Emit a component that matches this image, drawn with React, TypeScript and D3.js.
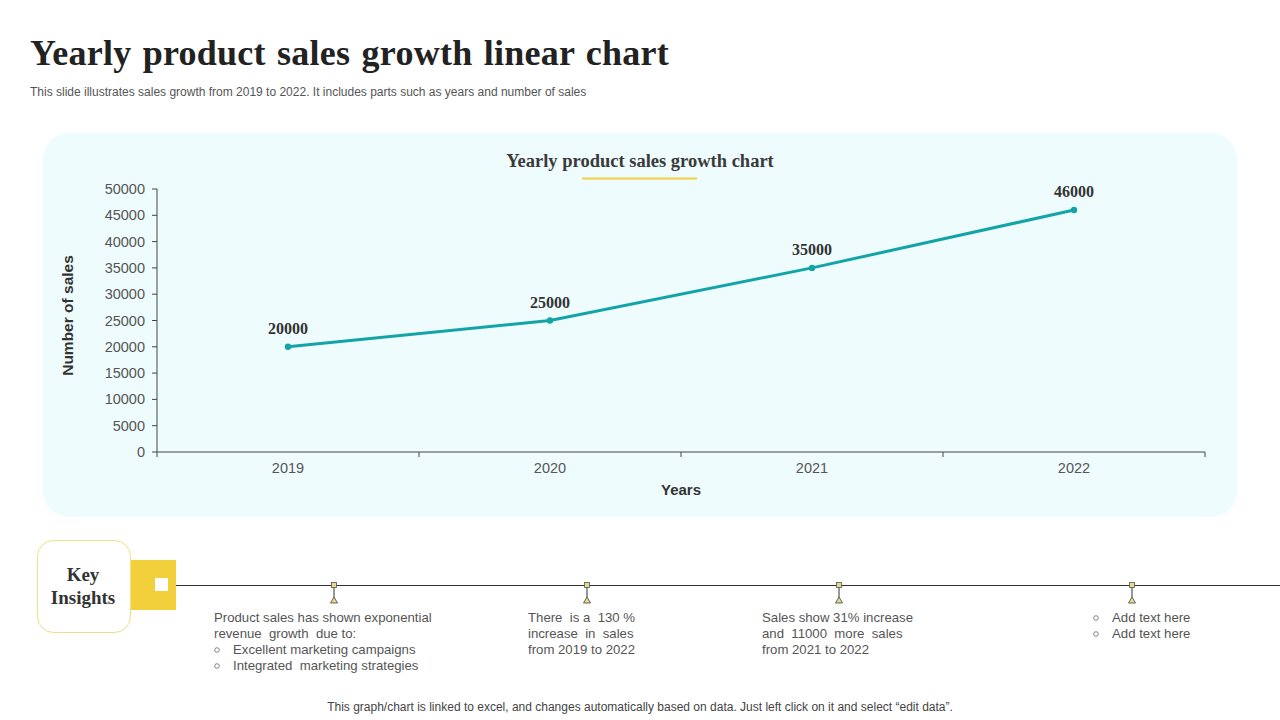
import React from "react";
import * as d3 from "d3";

const years = ["2019", "2020", "2021", "2022"];
const sales = [20000, 25000, 35000, 46000];
const yTicks = [0, 5000, 10000, 15000, 20000, 25000, 30000, 35000, 40000, 45000, 50000];

const insights = [
  { x: 334, textX: 214, lines: ["Product sales has shown exponential", "revenue  growth  due to:"], bullets: ["Excellent marketing campaigns", "Integrated  marketing strategies"] },
  { x: 587, textX: 528, lines: ["There  is a  130 %", "increase  in  sales", "from 2019 to 2022"], bullets: [] },
  { x: 839, textX: 762, lines: ["Sales show 31% increase", "and  11000  more  sales", "from 2021 to 2022"], bullets: [] },
  { x: 1132, textX: 1093, lines: [], bullets: ["Add text here", "Add text here"] },
];

const SANS = "'Liberation Sans', Arial, sans-serif";
const SERIF = "'Liberation Serif', 'Times New Roman', serif";

const App: React.FC = () => {
  const width = 1280;
  const height = 720;
  const margin = { left: 157, right: 1205, top: 189, bottom: 452 };

  const x = d3.scaleBand<string>().domain(years).range([margin.left, margin.right]);
  const y = d3.scaleLinear().domain([0, 50000]).range([margin.bottom, margin.top]);

  const line = d3
    .line<number>()
    .x((_, i) => (x(years[i]) ?? 0) + x.bandwidth() / 2)
    .y((d) => y(d));

  const bandEdges = [margin.left, ...years.map((yr) => (x(yr) ?? 0) + x.bandwidth())];

  return (
    <svg
      width={width}
      height={height}
      style={{ position: "absolute", left: 0, top: 0, background: "#fff" }}
    >
      {/* heading */}
      <text x={30} y={65} fontFamily={SERIF} fontWeight="bold" fontSize={36} fill="#222" letterSpacing={0.25} wordSpacing={2}>
        Yearly product sales growth linear chart
      </text>
      <text x={30} y={96} fontFamily={SANS} fontSize={12} fill="#555">
        This slide illustrates sales growth from 2019 to 2022. It includes parts such as years and number of sales
      </text>

      {/* chart panel */}
      <rect x={43} y={133} width={1194} height={384} rx={26} fill="#effcfe" />
      <text x={640} y={167} textAnchor="middle" fontFamily={SERIF} fontWeight="bold" fontSize={18.5} fill="#3a3a3a">
        Yearly product sales growth chart
      </text>
      <line x1={582} x2={697} y1={178.5} y2={178.5} stroke="#f2cf3c" strokeWidth={2} />

      {/* y axis */}
      <line x1={margin.left} x2={margin.left} y1={margin.top} y2={margin.bottom} stroke="#444" />
      {yTicks.map((t) => (
        <g key={t}>
          <line x1={margin.left - 5} x2={margin.left} y1={y(t)} y2={y(t)} stroke="#444" />
          <text x={margin.left - 12} y={y(t)} dy="0.35em" textAnchor="end" fontFamily={SANS} fontSize={14.5} fill="#555">
            {t}
          </text>
        </g>
      ))}
      <text
        transform={`translate(73,${(margin.top + margin.bottom) / 2 - 5}) rotate(-90)`}
        textAnchor="middle"
        fontFamily={SANS}
        fontWeight="bold"
        fontSize={15.5}
        fill="#333"
      >
        Number of sales
      </text>

      {/* x axis */}
      <line x1={margin.left} x2={margin.right} y1={margin.bottom} y2={margin.bottom} stroke="#444" />
      {bandEdges.map((e) => (
        <line key={e} x1={e} x2={e} y1={margin.bottom} y2={margin.bottom + 5} stroke="#444" />
      ))}
      {years.map((yr) => (
        <text
          key={yr}
          x={(x(yr) ?? 0) + x.bandwidth() / 2}
          y={473}
          textAnchor="middle"
          fontFamily={SANS}
          fontSize={14.5}
          fill="#555"
        >
          {yr}
        </text>
      ))}
      <text x={681} y={495} textAnchor="middle" fontFamily={SANS} fontWeight="bold" fontSize={15} fill="#333">
        Years
      </text>

      {/* series */}
      <path d={line(sales) ?? ""} fill="none" stroke="#13a4a7" strokeWidth={3} />
      {sales.map((v, i) => {
        const cx = (x(years[i]) ?? 0) + x.bandwidth() / 2;
        return (
          <g key={i}>
            <circle cx={cx} cy={y(v)} r={3.2} fill="#13a4a7" />
            <text x={cx} y={y(v) - 13} textAnchor="middle" fontFamily={SERIF} fontWeight="bold" fontSize={16} fill="#333">
              {v}
            </text>
          </g>
        );
      })}

      {/* key insights */}
      <line x1={176} x2={1280} y1={585.5} y2={585.5} stroke="#333" strokeWidth={1} />
      <rect x={131} y={560} width={45} height={50} fill="#f2d03b" />
      <rect x={155} y={578} width={13} height={13} fill="#fff" />
      <rect x={37.5} y={540.5} width={93} height={92} rx={16} fill="#fff" stroke="#f3dc85" strokeWidth={1} />
      <text x={83} y={581} textAnchor="middle" fontFamily={SERIF} fontWeight="bold" fontSize={19} fill="#333">
        Key
      </text>
      <text x={83} y={604} textAnchor="middle" fontFamily={SERIF} fontWeight="bold" fontSize={19} fill="#333">
        Insights
      </text>

      {insights.map((ins, k) => (
        <g key={k}>
          <line x1={ins.x} x2={ins.x} y1={585} y2={598} stroke="#333" strokeWidth={1} />
          <rect x={ins.x - 2.5} y={582.5} width={5} height={5} fill="#e3dc8c" stroke="#555" strokeWidth={0.8} />
          <path
            d={`M${ins.x},${597} L${ins.x + 3.5},${603} L${ins.x - 3.5},${603} Z`}
            fill="#e3dc8c"
            stroke="#555"
            strokeWidth={0.9}
          />
          {ins.lines.map((l, j) => (
            <text key={j} x={ins.textX} y={622 + j * 16} fontFamily={SANS} fontSize={13.2} fill="#555" style={{ whiteSpace: "pre" }}>
              {l}
            </text>
          ))}
          {ins.bullets.map((b, j) => {
            const yy = 622 + (ins.lines.length + j) * 16;
            return (
              <g key={`b${j}`}>
                <circle cx={ins.textX + 3} cy={yy - 4} r={2.3} fill="none" stroke="#666" strokeWidth={0.8} />
                <text x={ins.textX + 19} y={yy} fontFamily={SANS} fontSize={13.2} fill="#555" style={{ whiteSpace: "pre" }}>
                  {b}
                </text>
              </g>
            );
          })}
        </g>
      ))}

      {/* footer */}
      <text x={640} y={711} textAnchor="middle" fontFamily={SANS} fontSize={12} fill="#444">
        This graph/chart is linked to excel,  and changes automatically based on data. Just left click on it and select “edit data”.
      </text>
    </svg>
  );
};

export default App;
